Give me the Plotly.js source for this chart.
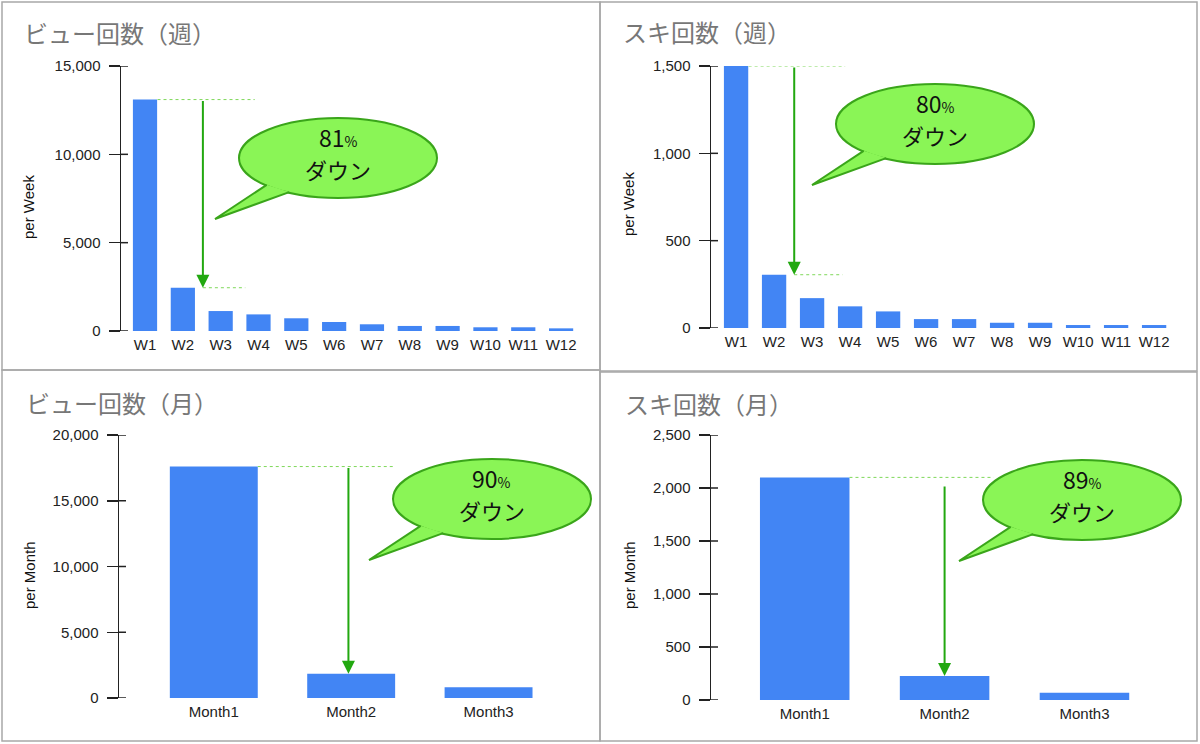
<!DOCTYPE html>
<html>
<head>
<meta charset="utf-8">
<script src="https://cdn.plot.ly/plotly-3.0.1.min.js"></script>
<style>
  html, body { margin: 0; padding: 0; background: #fff; }
  #chart { width: 1200px; height: 744px; }
</style>
</head>
<body>
<div id="chart"></div>
<script>
// data
const weeks = ['W1', 'W2', 'W3', 'W4', 'W5', 'W6', 'W7', 'W8', 'W9', 'W10', 'W11', 'W12'];
const months = ['Month1', 'Month2', 'Month3'];
const viewsWeekly = [13100, 2450, 1130, 940, 720, 510, 380, 285, 285, 210, 210, 150];
const likesWeekly = [1500, 305, 171, 124, 95, 51, 51, 30, 30, 17, 17, 17];
const viewsMonthly = [17600, 1850, 810];
const likesMonthly = [2100, 227, 69];
const panelTitles = ['ビュー回数（週）', 'スキ回数（週）', 'ビュー回数（月）', 'スキ回数（月）'];
const yTitles = ['per Week', 'per Week', 'per Month', 'per Month'];
const dropLabels = ['81', '80', '90', '89'];

const W = 1200, H = 744;
const px = x => x / W;
const py = y => 1 - y / H;

const BLUE = '#4285f4';
const INK = '#222222';
const ARROW = '#22a810';
const DOT = '#7fd85a';
const BUBBLE_FILL = '#8af556';
const BUBBLE_LINE = '#3aa51a';
const NUM_FONT = 'Liberation Sans, Arial, sans-serif';
const JP_FONT = 'Noto Sans CJK JP, sans-serif';

// layout of each panel (pixels in the 1200x744 picture)
const panels = [
  { cats: weeks, vals: viewsWeekly, xd: [121, 580], yd: [66, 331], xr: [-0.635, 11.5], ymax: 15000, dtick: 5000,
    arrowX: 1.53, arrowFrom: 1, line1: [0.33, 2.9], line2: [1.53, 2.65],
    bubble: { cx: 338, cy: 158 }, title: { x: 22, y: 33 }, ytitle: { x: 29, y: 207 }, box: [2, 2, 600, 370] },
  { cats: weeks, vals: likesWeekly, xd: [711, 1175], yd: [66, 328], xr: [-0.66, 11.55], ymax: 1500, dtick: 500,
    arrowX: 1.53, arrowFrom: 1, line1: [0.33, 2.87], line2: [1.53, 2.8],
    bubble: { cx: 935, cy: 124 }, title: { x: 621, y: 32 }, ytitle: { x: 629, y: 204 }, box: [600, 2, 1197, 371] },
  { cats: months, vals: viewsMonthly, xd: [119, 560], yd: [435, 698], xr: [-0.69, 2.52], ymax: 20000, dtick: 5000,
    arrowX: 0.98, arrowFrom: 1, line1: [0.32, 1.32], line2: null,
    bubble: { cx: 492, cy: 499 }, title: { x: 24, y: 402 }, ytitle: { x: 29, y: 575 }, box: [2, 370, 600, 741] },
  { cats: months, vals: likesMonthly, xd: [711, 1160], yd: [435, 700], xr: [-0.67, 2.54], ymax: 2500, dtick: 500,
    arrowX: 1.0, arrowFrom: 0.966, line1: [0.32, 1.35], line2: null,
    bubble: { cx: 1082, cy: 500 }, title: { x: 623, y: 403 }, ytitle: { x: 629, y: 575 }, box: [600, 372, 1197, 741] }
];

const traces = [];
const layout = {
  width: W,
  height: H,
  margin: { l: 0, r: 0, t: 0, b: 0 },
  paper_bgcolor: '#ffffff',
  plot_bgcolor: '#ffffff',
  showlegend: false,
  bargap: 0.36,
  font: { family: NUM_FONT, size: 15, color: INK },
  shapes: [],
  annotations: []
};

panels.forEach((p, i) => {
  const s = i === 0 ? '' : String(i + 1);
  const xa = 'x' + s, ya = 'y' + s;

  traces.push({
    type: 'bar',
    x: p.cats,
    y: p.vals,
    xaxis: xa,
    yaxis: ya,
    marker: { color: BLUE },
    hoverinfo: 'x+y'
  });

  layout['xaxis' + s] = {
    domain: [px(p.xd[0]), px(p.xd[1])],
    anchor: ya,
    type: 'category',
    range: p.xr,
    showline: false,
    showgrid: false,
    zeroline: false,
    ticks: '',
    ticklabelstandoff: 3,
    tickfont: { size: 15, color: INK, family: NUM_FONT },
    fixedrange: true
  };
  layout['yaxis' + s] = {
    domain: [py(p.yd[1]), py(p.yd[0])],
    anchor: xa,
    range: [0, p.ymax],
    dtick: p.dtick,
    tick0: 0,
    tickformat: ',d',
    showline: true,
    linecolor: INK,
    linewidth: 1.5,
    ticks: 'outside',
    ticklen: 11,
    tickwidth: 1.5,
    tickcolor: INK,
    ticklabelstandoff: 5,
    showgrid: false,
    zeroline: false,
    tickfont: { size: 15, color: INK, family: NUM_FONT },
    fixedrange: true
  };

  // ticks cross the axis line: short stubs on the inner side
  for (let v = 0; v <= p.ymax; v += p.dtick) {
    layout.shapes.push({
      type: 'line', xref: xa, yref: ya,
      xsizemode: 'pixel', xanchor: p.xr[0], x0: 0, x1: 7,
      y0: v, y1: v,
      line: { color: INK, width: 1.5 }
    });
  }

  // panel frame
  layout.shapes.push({
    type: 'rect', xref: 'paper', yref: 'paper',
    x0: px(p.box[0]), x1: px(p.box[2]), y0: py(p.box[3]), y1: py(p.box[1]),
    line: { color: '#a8a8a8', width: 1.5 },
    fillcolor: 'rgba(0,0,0,0)'
  });

  // dotted guide lines at first and second value
  layout.shapes.push({
    type: 'line', xref: xa, yref: ya,
    x0: p.line1[0], x1: p.line1[1], y0: p.vals[0], y1: p.vals[0],
    line: { color: DOT, width: 1, dash: 'dot' }
  });
  if (p.line2) {
    layout.shapes.push({
      type: 'line', xref: xa, yref: ya,
      x0: p.line2[0], x1: p.line2[1], y0: p.vals[1], y1: p.vals[1],
      line: { color: DOT, width: 1, dash: 'dot' }
    });
  }

  // drop arrow from first to second value
  layout.annotations.push({
    xref: xa, yref: ya, axref: xa, ayref: ya,
    x: p.arrowX, y: p.vals[1],
    ax: p.arrowX, ay: p.vals[0] * p.arrowFrom,
    text: '',
    showarrow: true,
    arrowhead: 2,
    arrowsize: 1.3,
    arrowwidth: 2,
    arrowcolor: ARROW,
    standoff: 0
  });

  // speech bubble
  const b = p.bubble, rx = 99, ry = 40;
  const edge = deg => {
    const t = deg * Math.PI / 180;
    return [b.cx + rx * 0.985 * Math.cos(t), b.cy + ry * 0.985 * Math.sin(t)];
  };
  const b1 = edge(137), b2 = edge(120);
  const tip = [b.cx - 123, b.cy + 61];
  layout.shapes.push({
    type: 'circle', xref: 'paper', yref: 'paper',
    x0: px(b.cx - rx), x1: px(b.cx + rx), y0: py(b.cy + ry), y1: py(b.cy - ry),
    fillcolor: BUBBLE_FILL,
    line: { color: BUBBLE_LINE, width: 2 }
  });
  layout.shapes.push({
    type: 'path', xref: 'paper', yref: 'paper',
    path: `M ${px(b1[0])},${py(b1[1])} L ${px(tip[0])},${py(tip[1])} L ${px(b2[0])},${py(b2[1])}`,
    fillcolor: BUBBLE_FILL,
    line: { color: BUBBLE_LINE, width: 2 }
  });
  layout.annotations.push({
    xref: 'paper', yref: 'paper', x: px(b.cx), y: py(b.cy - 21),
    xanchor: 'center', yanchor: 'middle', showarrow: false,
    text: dropLabels[i] + "<span style='font-size:14px'>%</span>",
    font: { family: JP_FONT, size: 23, color: '#111' }
  });
  layout.annotations.push({
    xref: 'paper', yref: 'paper', x: px(b.cx), y: py(b.cy + 11),
    xanchor: 'center', yanchor: 'middle', showarrow: false,
    text: 'ダウン',
    font: { family: JP_FONT, size: 22, color: '#111' }
  });

  // panel title and y title
  layout.annotations.push({
    xref: 'paper', yref: 'paper', x: px(p.title.x), y: py(p.title.y),
    xanchor: 'left', yanchor: 'middle', showarrow: false,
    text: panelTitles[i],
    font: { family: JP_FONT, size: 24, color: '#777777' }
  });
  layout.annotations.push({
    xref: 'paper', yref: 'paper', x: px(p.ytitle.x), y: py(p.ytitle.y),
    xanchor: 'center', yanchor: 'middle', showarrow: false,
    textangle: -90,
    text: yTitles[i],
    font: { family: NUM_FONT, size: 15, color: '#111' }
  });
});

Plotly.newPlot('chart', traces, layout, { displayModeBar: false, staticPlot: true });
</script>
</body>
</html>
